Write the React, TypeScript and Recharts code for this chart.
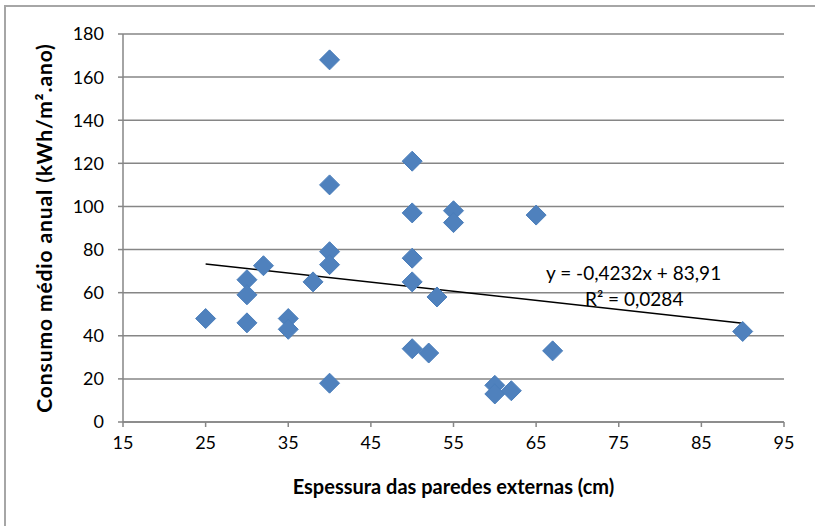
import {
    ScatterChart,
    Scatter,
    XAxis,
    YAxis,
    ZAxis,
    CartesianGrid,
} from "recharts";

// espessura (cm) vs consumo (kWh/m².ano)
const espessura = [
    25, 30, 30, 30, 32, 35, 35, 38, 40, 40, 40, 40, 40, 50, 50, 50, 50, 50,
    52, 53, 55, 55, 60, 60, 62, 65, 67, 90,
];
const consumo = [
    48, 66, 59, 46, 72.5, 48, 43, 65, 168, 110, 79, 73, 18, 121, 97, 76, 65,
    34, 32, 58, 98, 92.5, 17, 13, 14.5, 96, 33, 42,
];

const xTicks = [15, 25, 35, 45, 55, 65, 75, 85, 95];
const yTicks = [0, 20, 40, 60, 80, 100, 120, 140, 160, 180];

// linha de tendência do Excel
const slope = -0.4232;
const intercept = 83.91;
const trendX = [25, 90];

const points = espessura.map((x, i) => ({ x, y: consumo[i] }));
const trend = trendX.map((x) => ({ x, y: slope * x + intercept }));

const FONT = "Lato, 'Open Sans', sans-serif";

const Diamond = (props: any) => {
    const { cx, cy } = props;
    if (cx == null || cy == null) return null;
    const r = 10;
    return (
        <polygon
            points={`${cx},${cy - r} ${cx + r},${cy} ${cx},${cy + r} ${cx - r},${cy}`}
            fill="#4F81BD"
            stroke="#4A7EBB"
            strokeWidth={1}
        />
    );
};

export default function App() {
    return (
        <div
            style={{
                position: "fixed",
                left: 0,
                top: 0,
                width: 815,
                height: 526,
                background: "#fff",
                fontFamily: FONT,
            }}
        >
            <div
                style={{
                    position: "absolute",
                    left: 4,
                    top: 5,
                    width: 811,
                    height: 521,
                    borderLeft: "2px solid #A6A6A6",
                    borderTop: "2px solid #A6A6A6",
                    boxSizing: "border-box",
                }}
            />
            <ScatterChart
                width={815}
                height={526}
                margin={{ top: 34, right: 31, bottom: 0, left: 0 }}
                style={{ position: "absolute", left: 0, top: 0 }}
            >
                <CartesianGrid
                    stroke="#868686"
                    strokeWidth={1.5}
                    vertical={false}
                />
                <XAxis
                    type="number"
                    dataKey="x"
                    domain={[15, 95]}
                    ticks={xTicks}
                    interval={0}
                    height={104}
                    stroke="#868686"
                    strokeWidth={1.5}
                    tickSize={5}
                    tickMargin={9}
                    tick={{ fill: "#000", fontSize: 18, fontFamily: FONT }}
                    label={{
                        value: "Espessura das paredes externas (cm)",
                        position: "insideBottom",
                        offset: 32,
                        style: {
                            fill: "#000",
                            fontSize: 20,
                            fontWeight: 700,
                            fontFamily: FONT,
                        },
                    }}
                />
                <YAxis
                    type="number"
                    dataKey="y"
                    domain={[0, 180]}
                    ticks={yTicks}
                    interval={0}
                    width={123}
                    stroke="#868686"
                    strokeWidth={1.5}
                    tickSize={5}
                    tickMargin={14}
                    tick={{ fill: "#000", fontSize: 18, fontFamily: FONT }}
                    label={{
                        value: "Consumo médio anual (kWh/m².ano)",
                        angle: -90,
                        position: "insideLeft",
                        offset: 45,
                        style: {
                            textAnchor: "middle",
                            fill: "#000",
                            fontSize: 21,
                            fontWeight: 700,
                            letterSpacing: 0.9,
                            fontFamily: FONT,
                        },
                    }}
                />
                <ZAxis range={[300, 300]} />
                <Scatter
                    data={trend}
                    line={{ stroke: "#000", strokeWidth: 1.5 }}
                    shape={() => null}
                    isAnimationActive={false}
                />
                <Scatter
                    data={points}
                    shape={Diamond}
                    isAnimationActive={false}
                />
            </ScatterChart>
            <div
                style={{
                    position: "absolute",
                    left: 546,
                    top: 262,
                    fontSize: 19,
                    color: "#000",
                    whiteSpace: "nowrap",
                    lineHeight: "22px",
                }}
            >
                y = -0,4232x + 83,91
            </div>
            <div
                style={{
                    position: "absolute",
                    left: 585,
                    top: 288,
                    fontSize: 19,
                    color: "#000",
                    whiteSpace: "nowrap",
                    lineHeight: "22px",
                }}
            >
                R² = 0,0284
            </div>
        </div>
    );
}
